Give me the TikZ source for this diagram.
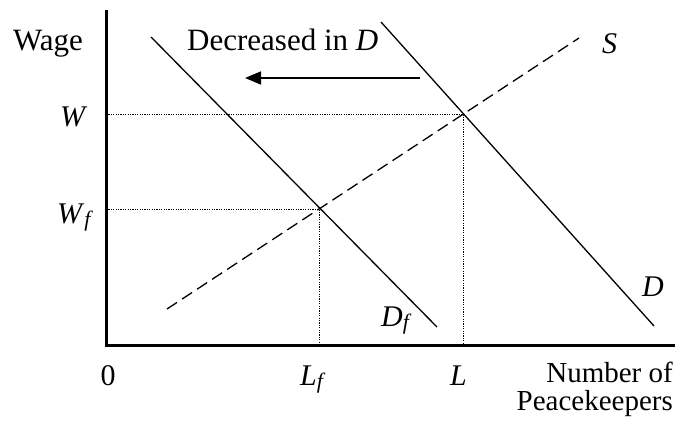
\documentclass[tikz,border=0pt]{standalone}
\usepackage{fontspec}
\setmainfont{Liberation Serif}
\usetikzlibrary{arrows.meta}
\newcommand{\subf}{\raisebox{-3pt}{\fontsize{22}{24}\selectfont\itshape f}}
\begin{document}
\begin{tikzpicture}[x=1pt,y=-1pt,
  lbl/.style={inner sep=0pt,font=\fontsize{30}{33}\selectfont},
  biglbl/.style={inner sep=0pt,font=\fontsize{31}{34}\selectfont},
  axlbl/.style={inner sep=0pt,font=\fontsize{29}{32}\selectfont},
  axis/.style={line width=3pt},
  curve/.style={line width=1.3pt},
  supply/.style={line width=1.3pt,dash pattern=on 12pt off 6pt},
  guide/.style={line width=0.9pt,dash pattern=on 1.2pt off 1.2pt},
  shiftarrow/.style={line width=1.6pt,-{Triangle[length=16pt,width=13pt]}}]
\useasboundingbox (0,0) rectangle (691,425);
% axes
\coordinate (top) at (106,12);
\coordinate (O) at (106,345);
\coordinate (xend) at (673,345);
\draw[axis,line cap=rect] (top) -- (O) -- (xend);
% key points
\coordinate (Ef) at (319,209);
\coordinate (E) at (463,114);
\coordinate (Wfy) at (106,209);
\coordinate (Wy) at (106,114);
\coordinate (Lfx) at (319,345);
\coordinate (Lx) at (463,345);
% guides
\draw[guide] (Wy) -- (E) -- (Lx);
\draw[guide] (Wfy) -- (Ef) -- (Lfx);
% curves
\coordinate (Df1) at (151,37);
\coordinate (Df2) at (437,327);
\draw[curve] (Df1) -- (Df2);
\coordinate (D1) at (381,22);
\coordinate (D2) at (654,326);
\draw[curve] (D1) -- (D2);
\coordinate (S1) at (167,309);
\coordinate (S2) at (579,38);
\draw[supply] (S1) -- (S2);
% shift arrow
\coordinate (A1) at (420,78);
\coordinate (A2) at (245,78);
\draw[shiftarrow] (A1) -- (A2);
% labels
\node[biglbl,anchor=base west] (wage) at (13,51) {Wage};
\node[biglbl,anchor=base west] (dec) at (187,51) {Decreased in \textit{D}};
\node[lbl,anchor=base west] (s) at (602,54) {\textit{S}};
\node[lbl,anchor=base west] (w) at (60,127) {\textit{W}};
\node[lbl,anchor=base west] (wf) at (57,223) {\textit{W}\subf};
\node[lbl,anchor=base] (zero) at (108,385) {0};
\node[lbl,anchor=base west] (lf) at (300,385) {\textit{L}\subf};
\node[lbl,anchor=base west] (l) at (450,385) {\textit{L}};
\node[axlbl,anchor=base east] (num) at (673,382) {Number of};
\node[axlbl,anchor=base east] (pk) at (673,410) {Peacekeepers};
\node[lbl,anchor=base west] (dfl) at (381,326) {\textit{D}\subf};
\node[lbl,anchor=base west] (dl) at (642,296) {\textit{D}};
\end{tikzpicture}
\end{document}
